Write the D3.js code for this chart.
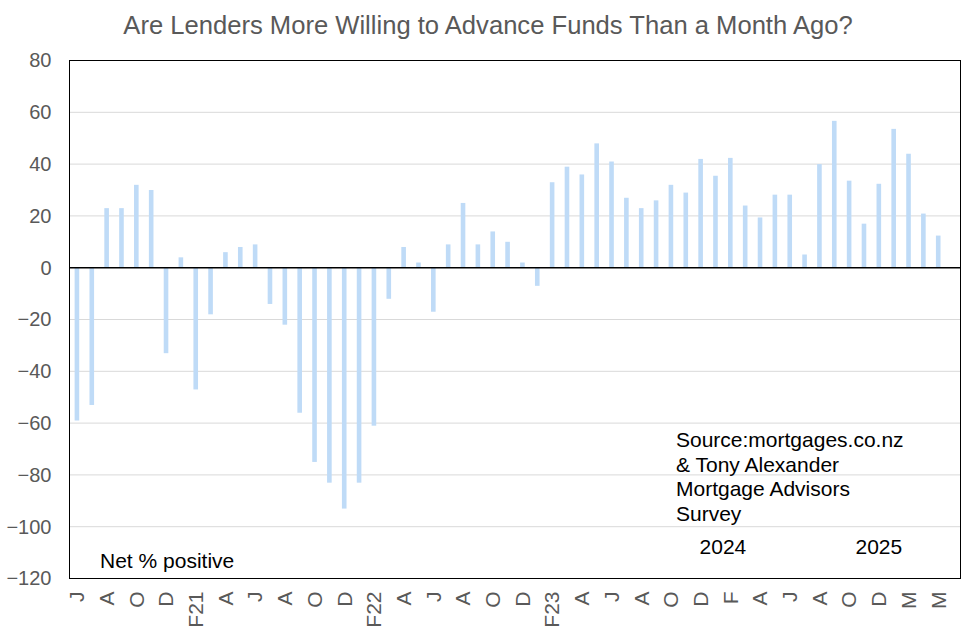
<!DOCTYPE html>
<html>
<head>
<meta charset="utf-8">
<script src="https://cdn.jsdelivr.net/npm/d3@7"></script>
<style>
  html, body { margin: 0; padding: 0; background: #fff; }
  svg { display: block; font-family: Arial, "Liberation Sans", sans-serif; }
</style>
</head>
<body>
<svg id="chart" width="976" height="637"></svg>
<script>
// Net % of advisors saying lenders are more willing to advance funds, monthly from June 2020

const monthLabels = [
  "J", "", "A", "", "O", "", "D", "", "F21", "",
  "A", "", "J", "", "A", "", "O", "", "D", "",
  "F22", "", "A", "", "J", "", "A", "", "O", "",
  "D", "", "F23", "", "A", "", "J", "", "A", "",
  "O", "", "D", "", "F", "", "A", "", "J", "",
  "A", "", "O", "", "D", "", "M", "", "M", ""
];

const netPositive = [
  -59, -53, 23, 23, 32, 30, -33, 4, -47, -18,
  6, 8, 9, -14, -22, -56, -75, -83, -93, -83,
  -61, -12, 8, 2, -17, 9, 25, 9, 14, 10,
  2, -7, 33, 39, 36, 48, 41, 27, 23, 26,
  32, 29, 42, 35.5, 42.4, 24, 19.4, 28.2, 28.2, 5.1,
  40, 56.7, 33.6, 17, 32.4, 53.6, 44, 20.9, 12.4, null
];

const yTicks = [80, 60, 40, 20, 0, -20, -40, -60, -80, -100, -120];

const titleText = "Are Lenders More Willing to Advance Funds Than a Month Ago?";
const sourceLines = ["Source:mortgages.co.nz", "& Tony Alexander", "Mortgage Advisors", "Survey"];

const width = 976, height = 637;
const margin = {top: 60.5, right: 15.5, bottom: 58.5, left: 69.5};

const svg = d3.select("#chart");

const x = d3.scaleBand()
  .domain(d3.range(monthLabels.length))
  .range([margin.left, width - margin.right])
  .paddingInner(0.69)
  .paddingOuter(0.345);

const y = d3.scaleLinear()
  .domain([-120, 80])
  .range([height - margin.bottom, margin.top]);

// title
svg.append("text")
  .attr("x", 488)
  .attr("y", 33.5)
  .attr("text-anchor", "middle")
  .attr("fill", "#595959")
  .style("font-size", "25.6px")
  .text(titleText);

// gridlines (not on the frame edges)
svg.append("g")
  .selectAll("line")
  .data(yTicks.filter(d => d !== 80 && d !== -120 && d !== 0))
  .join("line")
  .attr("x1", margin.left)
  .attr("x2", width - margin.right)
  .attr("y1", d => y(d))
  .attr("y2", d => y(d))
  .attr("stroke", "#d9d9d9")
  .attr("stroke-width", 1);

// bars
svg.append("g")
  .selectAll("rect")
  .data(netPositive.map((v, i) => ({i, v})).filter(d => d.v !== null))
  .join("rect")
  .attr("x", d => x(d.i))
  .attr("width", x.bandwidth())
  .attr("y", d => y(Math.max(0, d.v)))
  .attr("height", d => Math.abs(y(d.v) - y(0)))
  .attr("fill", "#bfdbf7");

// zero line
svg.append("line")
  .attr("x1", margin.left)
  .attr("x2", width - margin.right)
  .attr("y1", y(0))
  .attr("y2", y(0))
  .attr("stroke", "#000")
  .attr("stroke-width", 1.5);

// plot frame
svg.append("rect")
  .attr("x", margin.left)
  .attr("y", margin.top)
  .attr("width", width - margin.left - margin.right)
  .attr("height", height - margin.top - margin.bottom)
  .attr("fill", "none")
  .attr("stroke", "#000")
  .attr("stroke-width", 1);

// y axis
const yAxis = svg.append("g")
  .attr("transform", `translate(${margin.left},0)`)
  .call(d3.axisLeft(y).tickValues(yTicks).tickSize(0).tickPadding(18));
yAxis.select(".domain").remove();
yAxis.selectAll("text")
  .attr("fill", "#595959")
  .style("font-size", "20px")
  .style("font-family", "Arial, 'Liberation Sans', sans-serif");

// x axis, rotated month letters
const xAxis = svg.append("g")
  .attr("transform", `translate(0,${height - margin.bottom})`)
  .call(d3.axisBottom(x).tickFormat(i => monthLabels[i]).tickSize(0));
xAxis.select(".domain").remove();
xAxis.selectAll("text")
  .attr("fill", "#595959")
  .style("font-size", "21px")
  .style("font-family", "Arial, 'Liberation Sans', sans-serif")
  .attr("text-anchor", "end")
  .attr("transform", "rotate(-90)")
  .attr("x", -13)
  .attr("y", 0)
  .attr("dy", "0.35em");

// annotations
svg.append("text")
  .attr("x", 100)
  .attr("y", 567.5)
  .attr("fill", "#000")
  .style("font-size", "21px")
  .text("Net % positive");

svg.append("g")
  .selectAll("text")
  .data(sourceLines)
  .join("text")
  .attr("x", 676)
  .attr("y", (d, i) => 447 + i * 24.7)
  .attr("fill", "#000")
  .style("font-size", "21px")
  .text(d => d);

svg.append("text")
  .attr("x", (x(43) + x(44)) / 2 + x.bandwidth() / 2)
  .attr("y", 553.5)
  .attr("text-anchor", "middle")
  .attr("fill", "#000")
  .style("font-size", "21px")
  .text("2024");

svg.append("text")
  .attr("x", x(54) + x.bandwidth() / 2)
  .attr("y", 553.5)
  .attr("text-anchor", "middle")
  .attr("fill", "#000")
  .style("font-size", "21px")
  .text("2025");
</script>
</body>
</html>
